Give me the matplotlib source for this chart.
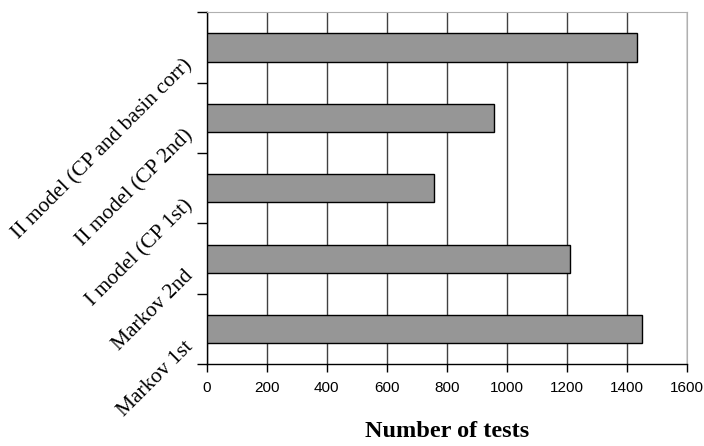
import matplotlib
matplotlib.use("Agg")
import matplotlib.pyplot as plt
import matplotlib.transforms as mtransforms
import numpy as np

# categories bottom -> top
categories = ["Markov 1st", "Markov 2nd", "I model (CP 1st)",
              "II model (CP 2nd)", "II model (CP and basin corr)"]
n_tests = [1450, 1210, 757, 957, 1432]
x_ticks = [0, 200, 400, 600, 800, 1000, 1200, 1400, 1600]

fig = plt.figure(figsize=(7.04, 4.46), dpi=100)
ax = fig.add_axes([0.2936, 0.1832, 0.9759 - 0.2936, 0.9724 - 0.1832])

ypos = np.arange(len(categories))
ax.set_axisbelow(True)
ax.barh(ypos, n_tests, height=0.40, color="#969696", edgecolor="black", linewidth=1.0, zorder=3)

ax.set_xlim(0, 1600)
ax.set_ylim(-0.5, len(categories) - 0.5)
ax.set_xticks(x_ticks)
ax.set_xticklabels([str(v) for v in x_ticks], fontfamily=["Liberation Sans Narrow", "Liberation Sans"], fontsize=11)
ax.xaxis.grid(True, color="#404040", linewidth=1.0)
ax.tick_params(axis="x", direction="out", length=6, width=1, pad=6)

# ticks on category boundaries, labels at centres
ax.set_yticks(np.arange(-0.5, len(categories), 1.0))
ax.set_yticklabels([])
ax.set_yticks(ypos, minor=True)
ax.set_yticklabels(categories, minor=True, rotation=45, ha="right", va="center",
                   rotation_mode="anchor", fontfamily="Liberation Serif", fontsize=15.5)
ax.tick_params(axis="y", which="major", direction="out", length=7, width=1)
ax.tick_params(axis="y", which="minor", length=0, pad=12)
offset = mtransforms.ScaledTranslation(0, -15 / 100, fig.dpi_scale_trans)
for lbl in ax.get_yticklabels(minor=True):
    lbl.set_transform(lbl.get_transform() + offset)

for side in ["top", "right"]:
    ax.spines[side].set_color("#b0b0b0")
for side in ["left", "bottom"]:
    ax.spines[side].set_color("black")
    ax.spines[side].set_linewidth(1.0)

ax.set_xlabel("Number of tests", fontfamily="Liberation Serif", fontweight="bold", fontsize=17.5, labelpad=19)

fig.savefig("out.png", dpi=100)
